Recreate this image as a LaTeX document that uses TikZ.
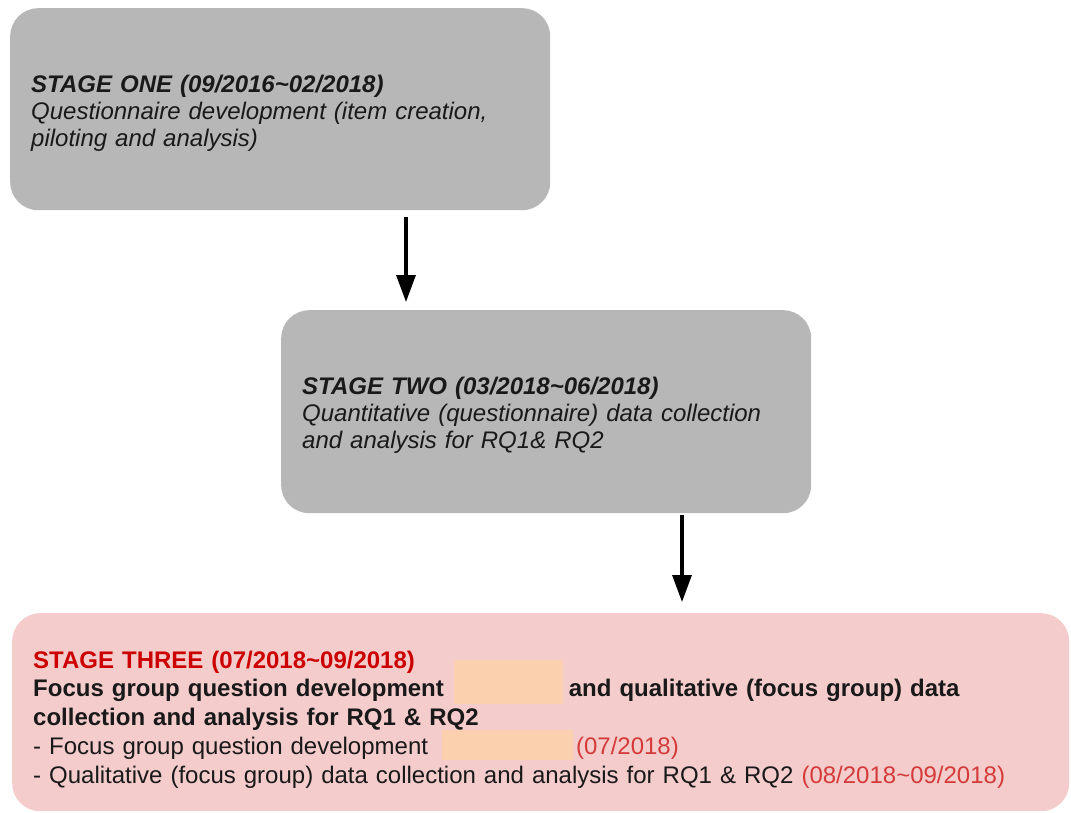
\documentclass[tikz,border=0pt]{standalone}
\usepackage{fontspec}
\setmainfont{Liberation Sans}
\usepackage{xcolor}
\usetikzlibrary{positioning, arrows.meta}
\definecolor{boxgray}{HTML}{B7B7B7}
\definecolor{boxpink}{HTML}{F4CCCC}
\definecolor{maskpeach}{HTML}{FAD0AE}
\definecolor{stagered}{HTML}{CC0000}
\definecolor{datered}{HTML}{D43A3A}
\newcommand{\hidebox}[3]{\smash{\textcolor{maskpeach}{\rule[#1]{#2}{#3}}}}

\begin{document}
\begin{tikzpicture}[x=1pt, y=-1pt,
	stage/.style={rounded corners=28pt, anchor=north west, align=left, inner xsep=21pt, inner ysep=0pt, text=black!90},
	flow/.style={-{Triangle[length=27pt,width=19pt]}, line width=3.2pt}]
		\useasboundingbox (0,0) rectangle (1071,812);
		
		\node[stage, fill=boxgray, text width=498pt, minimum height=202pt, font=\fontsize{24}{27}\selectfont\itshape] (s1) at (10,8)
			{\rule{0pt}{26pt}\textbf{STAGE ONE (09/2016\textasciitilde02/2018)}\\
			 Questionnaire development (item creation,\\
			 piloting and analysis)};
		\node[stage, fill=boxgray, text width=488pt, minimum height=203pt, font=\fontsize{24}{27}\selectfont\itshape] (s2) at (281,310)
			{\rule{0pt}{25pt}\textbf{STAGE TWO (03/2018\textasciitilde06/2018)}\\
			 Quantitative (questionnaire) data collection\\
			 and analysis for RQ1\& RQ2};
		\node[stage, fill=boxpink, text width=1015pt, minimum height=198pt, font=\fontsize{24}{28.8}\selectfont] (s3) at (12,613)
			{\rule{0pt}{32pt}\textbf{\textcolor{stagered}{STAGE THREE (07/2018\textasciitilde09/2018)}}\\
			 \textbf{Focus group question development}\hspace{10pt}\hidebox{-7pt}{109pt}{44pt}\hspace{6pt}\textbf{and qualitative (focus group) data}\\
			 \textbf{collection and analysis for RQ1 \& RQ2}\\
			 - Focus group question development\hspace{14pt}\hidebox{-5pt}{131pt}{30pt}\hspace{3pt}\textcolor{datered}{(07/2018)}\\
			 - Qualitative (focus group) data collection and analysis for RQ1 \& RQ2 \textcolor{datered}{(08/2018\textasciitilde09/2018)}};
		
		\coordinate (a1) at (406,0);
		\coordinate (a2) at (682,0);
		
		\draw[flow, shorten <=7pt, shorten >=8pt] (s1.south -| a1) -- (s2.north -| a1);
		\draw[flow, shorten <=2pt, shorten >=11pt] (s2.south -| a2) -- (s3.north -| a2);
		
		\end{tikzpicture}
\end{document}
